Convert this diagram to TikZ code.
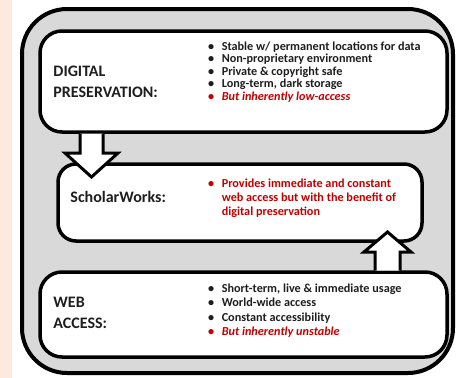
\documentclass[tikz,border=0pt]{standalone}
\usepackage{fontspec}
\setmainfont{Carlito}
\usetikzlibrary{positioning}
\definecolor{peach}{RGB}{253,234,220}
\definecolor{panel}{RGB}{217,217,217}
\definecolor{alert}{RGB}{192,0,0}
\definecolor{ink}{RGB}{30,30,30}

\begin{document}
\begin{tikzpicture}[x=1pt,y=-1pt]
\tikzset{
  frame/.style={draw,line width=3.5pt,rounded corners=22pt,fill=white,inner sep=0pt},
  heading/.style={font=\fontsize{16}{21}\selectfont\bfseries,text=ink,align=left,inner sep=0pt},
  points/.style={anchor=north west,font=\bfseries,text=ink,inner sep=0pt},
  blockarrow/.style={draw,line width=3pt,fill=white,line join=miter}
}
\newcommand{\bulletrows}[2]{\fontsize{12.2}{#1}\selectfont\begin{tabular}{@{}l@{\hspace{7.5pt}}l@{}}#2\end{tabular}}
\useasboundingbox (0,0) rectangle (456,378);
\fill[peach] (0,0) rectangle (12,378);
\draw[line width=4pt,fill=panel,rounded corners=45pt] (22,9) rectangle (453,373);

\node[frame,minimum width=407pt,minimum height=101pt] (digital) at (243.5,81.5) {};
\node[frame,minimum width=407pt,minimum height=85pt] (web) at (243.5,314.5) {};
\node[frame,rounded corners=18pt,minimum width=364pt,minimum height=77pt] (scholar) at (240,202.5) {};

\draw[blockarrow] (80,133.5) -- (80,153) -- (65,153) -- (91.5,177) -- (118,153) -- (103,153) -- (103,133.5);
\draw[blockarrow] (375,270.5) -- (375,252) -- (364,252) -- (387.5,232) -- (411,252) -- (400,252) -- (400,270.5);

\node[heading,right=15pt of digital.west] (digitalhead) {DIGITAL\\PRESERVATION:};
\node[heading,anchor=west] (scholarhead) at ([xshift=14pt,yshift=6pt]scholar.west) {ScholarWorks:};
\node[heading,anchor=west] (webhead) at ([xshift=15pt,yshift=2pt]web.west) {WEB\\ACCESS:};

\node[points] (digitallist) at (208,41.5) {\bulletrows{12.5}{
  \textbullet & Stable w/ permanent locations for data\\
  \textbullet & Non-proprietary environment\\
  \textbullet & Private \& copyright safe\\
  \textbullet & Long-term, dark storage\\
  \color{alert}\textbullet & \color{alert}\itshape But inherently low-access}};
\node[points,text=alert] (scholarlist) at (208,177.5) {\bulletrows{14}{
  \textbullet & Provides immediate and constant\\
  & web access but with the benefit of\\
  & digital preservation}};
\node[points] (weblist) at (208,282) {\bulletrows{14.5}{
  \textbullet & Short-term, live \& immediate usage\\
  \textbullet & World-wide access\\
  \textbullet & Constant accessibility\\
  \color{alert}\textbullet & \color{alert}\itshape But inherently unstable}};
\end{tikzpicture}
\end{document}
